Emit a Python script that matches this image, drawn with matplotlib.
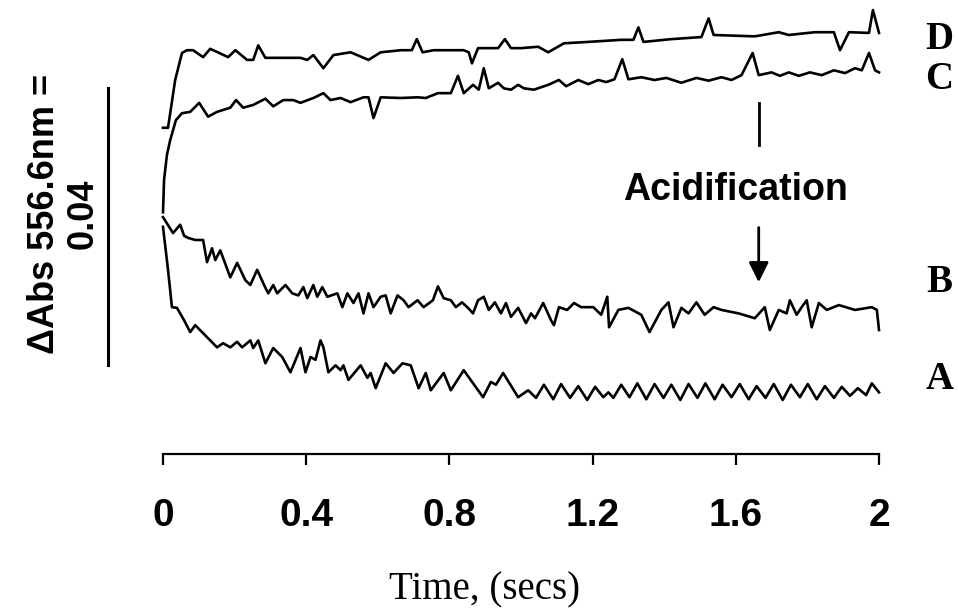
import matplotlib
matplotlib.use("Agg")
import matplotlib.pyplot as plt

# --- DATA (time in s, absorbance change in mAbs relative to start) ---
t_D = [0.0, 0.014, 0.034, 0.053, 0.067, 0.084, 0.112, 0.132, 0.182, 0.202,
       0.235, 0.252, 0.266, 0.286, 0.336, 0.384, 0.403, 0.420, 0.448, 0.476,
       0.524, 0.574, 0.608, 0.664, 0.695, 0.709, 0.725, 0.756, 0.840, 0.854,
       0.863, 0.880, 0.936, 0.955, 0.972, 1.000, 1.048, 1.076, 1.120, 1.188,
       1.280, 1.314, 1.328, 1.342, 1.420, 1.504, 1.524, 1.538, 1.653, 1.720,
       1.748, 1.821, 1.874, 1.891, 1.916, 1.972, 1.983, 2.0]
v_D = [12.6, 12.6, 19.5, 23.4, 23.8, 23.8, 22.8, 24.0, 22.8, 23.8,
       22.4, 22.4, 24.5, 22.7, 22.7, 22.7, 22.4, 23.1, 21.2, 23.1,
       23.5, 22.4, 23.5, 23.8, 23.8, 25.4, 23.5, 23.8, 23.8, 23.5,
       21.9, 24.1, 24.1, 25.4, 24.1, 24.1, 24.3, 23.5, 24.8, 25.0,
       25.3, 25.3, 27.1, 25.0, 25.4, 25.7, 28.4, 26.0, 25.8, 26.4,
       26.0, 26.4, 26.4, 23.8, 26.4, 26.3, 29.6, 26.3]

t_C = [0.0, 0.003, 0.011, 0.020, 0.036, 0.053, 0.076, 0.101, 0.126, 0.151,
       0.188, 0.204, 0.224, 0.252, 0.286, 0.308, 0.336, 0.364, 0.384, 0.420,
       0.448, 0.468, 0.496, 0.524, 0.560, 0.574, 0.588, 0.608, 0.664, 0.711,
       0.734, 0.768, 0.804, 0.824, 0.840, 0.866, 0.882, 0.896, 0.910, 0.936,
       0.952, 0.972, 0.992, 1.008, 1.036, 1.076, 1.106, 1.126, 1.160, 1.188,
       1.216, 1.238, 1.261, 1.283, 1.300, 1.336, 1.373, 1.406, 1.448, 1.490,
       1.524, 1.560, 1.588, 1.616, 1.647, 1.664, 1.700, 1.723, 1.748, 1.776,
       1.807, 1.840, 1.874, 1.905, 1.933, 1.952, 1.972, 1.989, 2.0]
v_C = [0.4, 5.1, 8.7, 10.8, 13.7, 14.7, 14.9, 16.2, 14.2, 14.9,
       15.5, 16.6, 15.5, 15.9, 16.8, 15.7, 16.6, 16.6, 16.2, 16.9,
       17.6, 16.6, 16.9, 16.3, 17.0, 17.0, 14.0, 17.0, 16.9, 17.0,
       16.9, 17.6, 17.6, 20.1, 17.6, 18.8, 18.1, 21.2, 18.3, 19.1,
       18.3, 18.1, 18.8, 18.3, 18.1, 18.8, 19.5, 18.6, 19.5, 18.9,
       19.5, 19.2, 19.6, 22.5, 19.6, 19.9, 19.5, 19.8, 19.1, 19.8,
       19.4, 19.9, 19.5, 20.2, 23.4, 20.2, 20.6, 20.1, 20.6, 20.1,
       20.6, 20.2, 20.9, 20.5, 21.2, 20.9, 23.4, 20.9, 20.6]

t_B = [0.0, 0.028, 0.048, 0.059, 0.070, 0.090, 0.112, 0.123, 0.137, 0.146,
       0.160, 0.188, 0.207, 0.230, 0.244, 0.263, 0.286, 0.294, 0.308, 0.319,
       0.342, 0.361, 0.378, 0.392, 0.403, 0.420, 0.431, 0.445, 0.459, 0.487,
       0.501, 0.515, 0.532, 0.546, 0.560, 0.574, 0.588, 0.608, 0.622, 0.636,
       0.655, 0.672, 0.686, 0.711, 0.728, 0.754, 0.768, 0.784, 0.804, 0.818,
       0.835, 0.852, 0.866, 0.880, 0.896, 0.910, 0.927, 0.944, 0.958, 0.972,
       0.992, 1.014, 1.028, 1.039, 1.062, 1.084, 1.092, 1.106, 1.129, 1.148,
       1.168, 1.202, 1.224, 1.241, 1.246, 1.272, 1.300, 1.336, 1.359, 1.392,
       1.412, 1.426, 1.448, 1.468, 1.490, 1.513, 1.538, 1.560, 1.608, 1.653,
       1.681, 1.695, 1.720, 1.742, 1.751, 1.770, 1.784, 1.798, 1.812, 1.832,
       1.854, 1.888, 1.933, 1.980, 1.994, 2.0]
v_B = [-0.3, -2.6, -1.4, -3.0, -3.3, -3.6, -3.6, -6.8, -4.8, -6.5,
       -5.1, -9.0, -6.9, -9.4, -10.1, -7.9, -10.5, -11.3, -10.1, -11.3,
       -10.1, -11.3, -11.6, -10.4, -12.0, -10.1, -11.8, -10.4, -11.8, -11.3,
       -13.3, -11.3, -12.7, -11.3, -14.2, -11.3, -13.3, -11.8, -11.6, -14.2,
       -11.6, -12.3, -13.3, -12.3, -13.3, -12.3, -10.3, -12.0, -12.3, -13.3,
       -12.6, -13.4, -14.2, -12.3, -11.8, -13.7, -12.6, -14.2, -12.7, -14.7,
       -13.4, -15.6, -14.2, -14.9, -12.7, -15.2, -15.9, -13.3, -13.7, -12.7,
       -13.3, -13.3, -14.4, -11.8, -16.2, -13.7, -13.4, -14.4, -16.9, -13.7,
       -12.6, -16.2, -13.4, -14.2, -12.6, -14.4, -13.3, -13.7, -14.2, -14.9,
       -13.3, -16.6, -13.7, -14.2, -12.3, -14.4, -13.3, -12.3, -16.2, -12.7,
       -13.7, -13.0, -13.7, -13.3, -13.7, -16.6]

t_A = [0.0, 0.014, 0.025, 0.039, 0.059, 0.076, 0.090, 0.109, 0.132, 0.151,
       0.168, 0.188, 0.207, 0.221, 0.244, 0.252, 0.266, 0.286, 0.308, 0.333,
       0.356, 0.384, 0.398, 0.412, 0.426, 0.440, 0.448, 0.462, 0.482, 0.496,
       0.504, 0.518, 0.552, 0.571, 0.580, 0.594, 0.622, 0.644, 0.669, 0.692,
       0.714, 0.734, 0.748, 0.784, 0.804, 0.840, 0.894, 0.916, 0.930, 0.950,
       0.992, 1.020, 1.042, 1.064, 1.090, 1.112, 1.137, 1.160, 1.185, 1.207,
       1.230, 1.244, 1.258, 1.280, 1.303, 1.325, 1.350, 1.373, 1.398, 1.420,
       1.445, 1.468, 1.493, 1.515, 1.541, 1.563, 1.588, 1.611, 1.636, 1.658,
       1.683, 1.706, 1.731, 1.754, 1.779, 1.801, 1.826, 1.849, 1.874, 1.896,
       1.919, 1.941, 1.964, 1.980, 2.0]
v_A = [-1.7, -7.9, -13.3, -13.4, -15.2, -16.9, -15.9, -16.9, -18.1, -19.1,
       -18.5, -19.1, -18.3, -19.1, -18.1, -19.2, -18.1, -21.4, -19.2, -20.5,
       -22.7, -19.2, -22.7, -20.5, -20.9, -18.1, -19.1, -22.7, -21.7, -22.4,
       -21.7, -23.8, -21.7, -23.5, -22.8, -25.0, -21.4, -22.8, -21.4, -21.7,
       -25.0, -22.8, -25.3, -22.8, -25.3, -22.4, -26.3, -24.1, -24.5, -22.8,
       -26.3, -25.3, -26.4, -24.5, -26.6, -24.4, -26.4, -24.7, -26.7, -24.8,
       -26.3, -25.6, -26.4, -24.5, -26.3, -24.3, -26.6, -24.4, -26.4, -24.5,
       -26.7, -24.4, -26.4, -24.3, -26.6, -24.5, -26.3, -24.4, -26.6, -24.7,
       -26.4, -24.4, -26.7, -24.5, -26.3, -24.4, -26.6, -24.7, -26.4, -24.8,
       -26.1, -25.0, -26.0, -24.3, -25.6]

traces = [("D", t_D, v_D), ("C", t_C, v_C), ("B", t_B, v_B), ("A", t_A, v_A)]
label_y = {"D": 25.3, "C": 19.5, "B": -9.8, "A": -23.8}

xticks = [0, 0.4, 0.8, 1.2, 1.6, 2]
xtick_labels = ["0", "0.4", "0.8", "1.2", "1.6", "2"]

SCALE_MABS = 40.0   # 0.04 Abs scale bar

# --- FIGURE ---
fig = plt.figure(figsize=(9.58, 6.11), dpi=100)
ax = fig.add_axes([163 / 958, 157 / 611, 716 / 958, 454 / 611])
ax.set_xlim(0, 2)
ax.set_ylim(-34.5, 31.05)

for name, t, v in traces:
    ax.plot(t, v, color="black", lw=1.9, clip_on=False)
    ax.text(2.168, label_y[name], name, fontsize=28, fontweight="bold",
            family="Liberation Serif", ha="center", va="center")

for s in ["top", "left", "right"]:
    ax.spines[s].set_visible(False)
ax.spines["bottom"].set_linewidth(1.6)
ax.set_yticks([])
ax.set_xticks(xticks)
ax.set_xticklabels(xtick_labels, fontsize=28, fontweight="bold",
                   family="Liberation Sans")
ax.tick_params(axis="x", direction="out", length=8, width=1.6, pad=24)

# scale bar (0.04 Abs)
ax.plot([-0.154, -0.154], [-21.66, -21.66 + SCALE_MABS], color="black",
        lw=2.2, clip_on=False)
fig.text(64 / 958, 1 - 214 / 611, "\u0394Abs 556.6nm =\n0.04", rotation=90,
         fontsize=26, fontweight="bold", family="Liberation Sans",
         ha="center", va="center", multialignment="center", linespacing=1.15)

# acidification marker
ax.plot([1.664, 1.664], [16.2, 10.1], color="black", lw=2, clip_on=False)
ax.text(1.60, 3.6, "Acidification", fontsize=27, fontweight="bold",
        family="Liberation Sans", ha="center", va="center")
ax.annotate("", xy=(1.664, -10.1), xytext=(1.664, -1.4),
            arrowprops=dict(arrowstyle="-|>", color="black", lw=2,
                            mutation_scale=30))

fig.text(485 / 958, 1 - 590 / 611, "Time, (secs)", fontsize=28,
         family="Liberation Serif", ha="center", va="center")

fig.savefig("out.png", dpi=100)
